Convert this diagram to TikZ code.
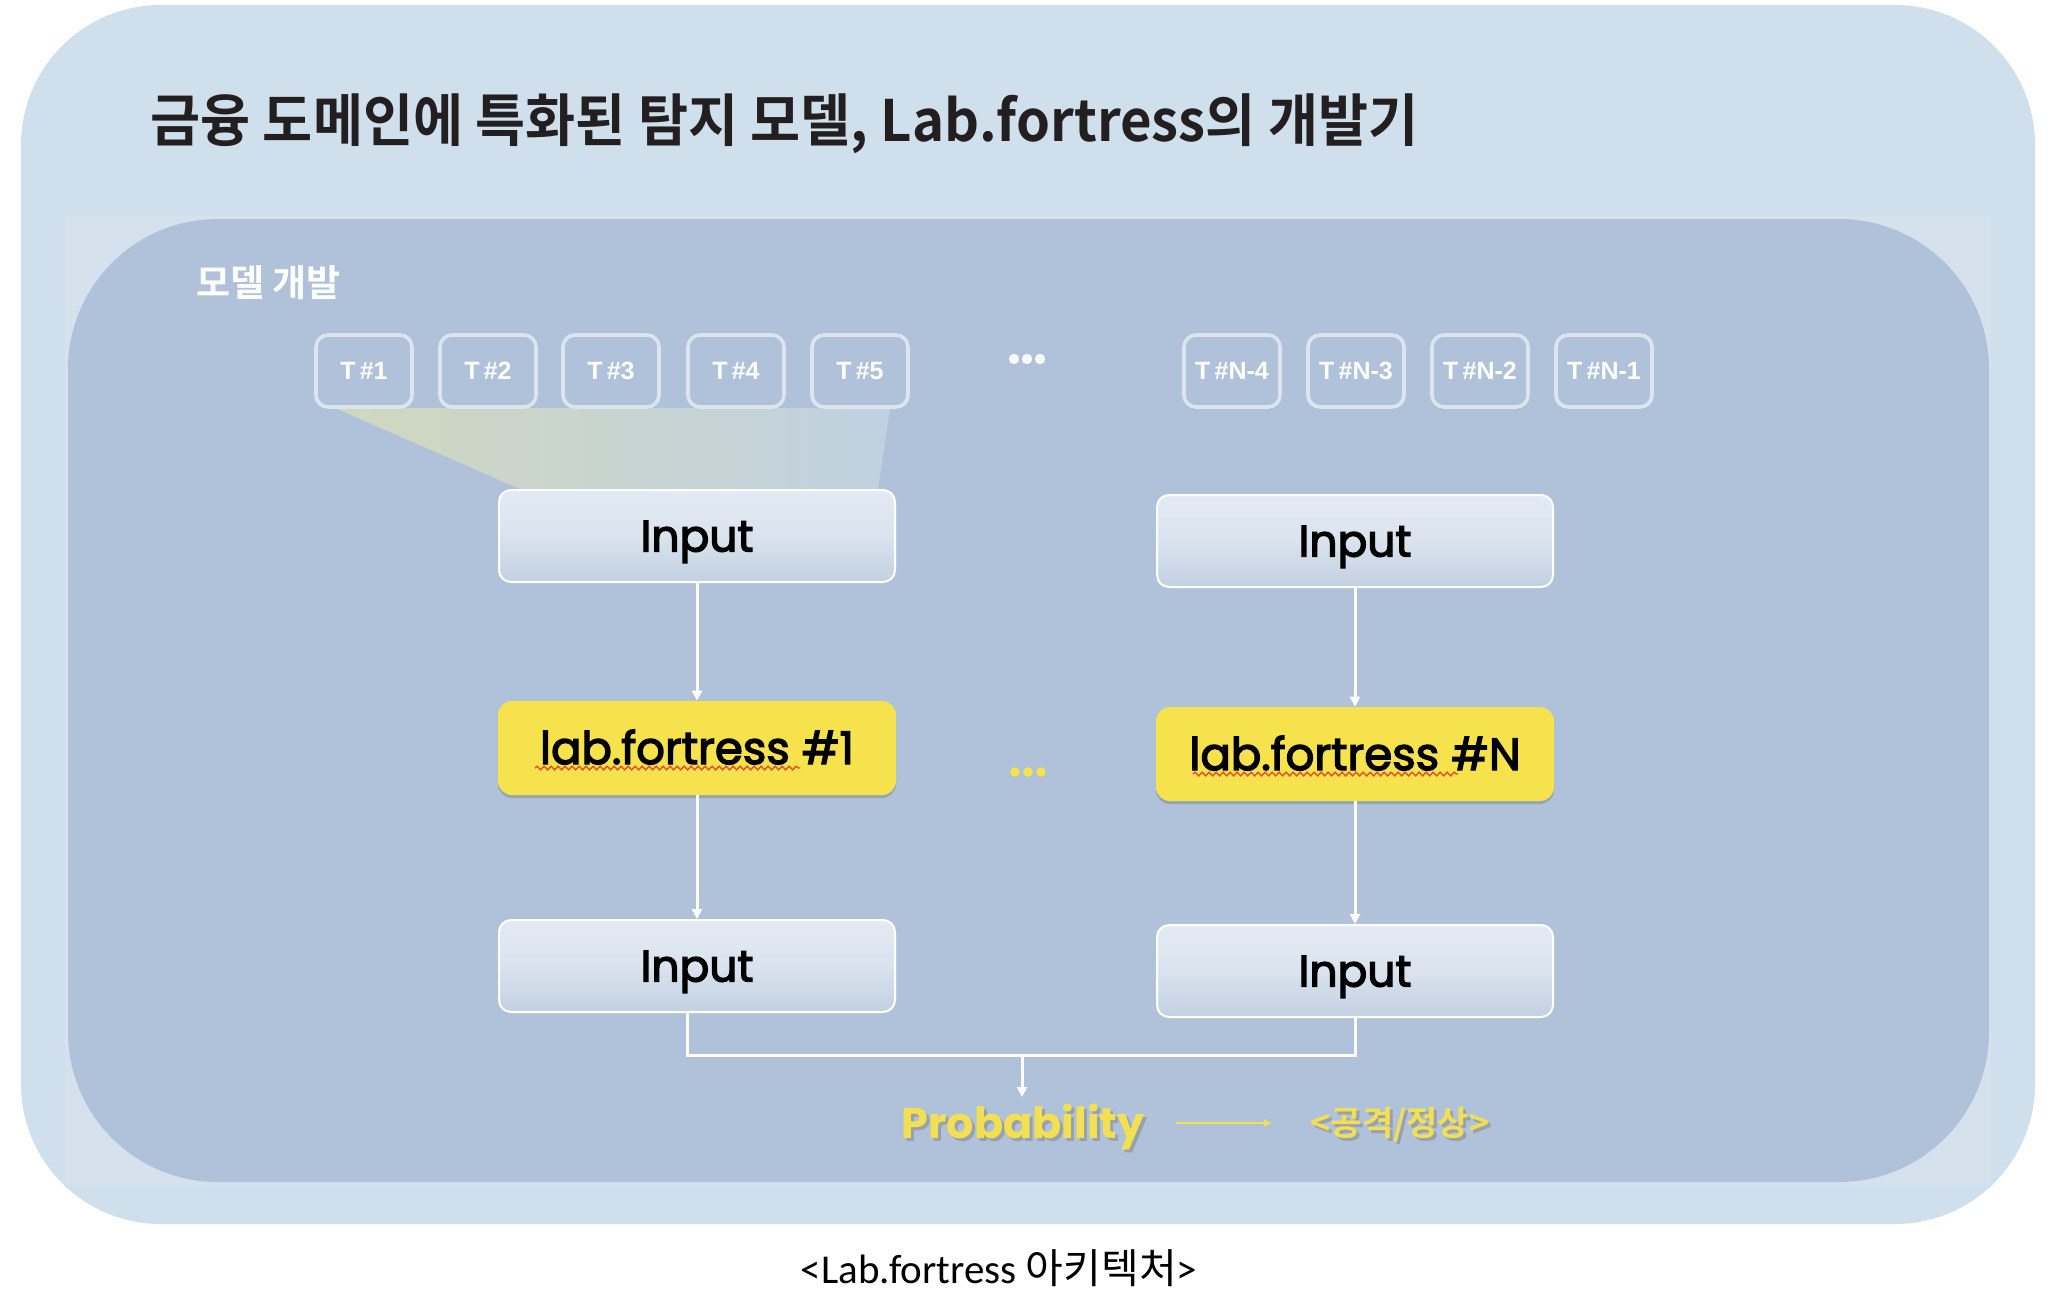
\documentclass[tikz,border=0pt]{standalone}
\usepackage{fontspec}
\setmainfont{Noto Sans CJK KR}
\newfontfamily\kr{Noto Sans CJK KR}[BoldFont={Noto Sans CJK KR Bold}]
\newfontfamily\pop{Poppins}
\newfontfamily\popm{Poppins}[FakeBold=3]
\newfontfamily\hv{Liberation Sans}
\newfontfamily\carl{Carlito}
\usetikzlibrary{arrows.meta,shadows,decorations.pathmorphing,calc}
\definecolor{outerbg}{RGB}{207,223,235}
\definecolor{bandc}{RGB}{213,225,237}
\definecolor{innerbg}{RGB}{175,194,218}
\definecolor{tstroke}{RGB}{220,229,238}
\definecolor{yel}{RGB}{246,226,76}
\definecolor{probY}{RGB}{243,224,82}
\definecolor{inTop}{RGB}{227,234,243}
\definecolor{inMid}{RGB}{218,227,238}
\definecolor{inBot}{RGB}{194,208,225}
\definecolor{titlec}{RGB}{35,31,32}
\definecolor{fanL}{RGB}{214,220,186}
\definecolor{fanR}{RGB}{196,212,226}
\definecolor{squig}{RGB}{226,80,40}
\tikzset{
  tbox/.style={draw=tstroke, line width=1.8pt, rounded corners=6pt, minimum width=48pt, minimum height=36pt,
    inner sep=0pt, text=white, font=\hv\bfseries\fontsize{12.5}{15}\selectfont},
  inbox/.style={draw=white, line width=1pt, rounded corners=6pt, minimum width=198pt, minimum height=46pt,
    top color=inTop, bottom color=inBot, middle color=inMid, text height=15.5pt, text depth=0pt,
    font=\popm\fontsize{22}{25}\selectfont, text=black},
  lfbox/.style={fill=yel, rounded corners=7pt, minimum width=199pt, minimum height=47pt, text height=16pt, text depth=0pt,
    drop shadow={shadow xshift=0pt, shadow yshift=-1.5pt, opacity=0.25, fill=black!70},
    font=\popm\fontsize{22.5}{25}\selectfont, text=black},
  warrow/.style={draw=white, line width=1.5pt, -{Triangle[length=5pt,width=5pt]}},
  yarrow/.style={draw=probY, line width=1.2pt, -{Triangle[length=4pt,width=3.5pt]}},
  squiggle/.style={draw=squig, line width=0.7pt, decorate, decoration={snake, amplitude=0.9pt, segment length=3.5pt}},
  probtxt/.style={font=\pop\bfseries\fontsize{21.5}{24}\selectfont, text=probY},
  shadowtxt/.style={font=\pop\bfseries\fontsize{21.5}{24}\selectfont, text=black!45, opacity=0.6},
  restxt/.style={font=\kr\bfseries\fontsize{17}{19}\selectfont},
}
\begin{document}
\begin{tikzpicture}[x=0.5pt,y=-0.5pt]
\fill[white] (0,0) rectangle (2048,1307);
\useasboundingbox (0,0) rectangle (2048,1307);
% outer panel
\fill[outerbg, rounded corners=70pt] (21,5) rectangle (2035,1224);
\fill[bandc] (65,216) rectangle (1991,1185);
\fill[innerbg, rounded corners=75pt] (68,219) rectangle (1989,1182);
% title
\node[anchor=west, inner sep=0pt, font=\kr\bfseries\fontsize{28.5}{30}\selectfont, text=titlec] (title) at (150,124)
  {\scalebox{0.955}[1]{금융 도메인에 특화된 탐지 모델, Lab.fortress의 개발기}};
\node[anchor=west, inner sep=0pt, font=\kr\bfseries\fontsize{18.5}{20}\selectfont, text=white] (sec) at (196,283) {모델 개발};
% fan
\shade[left color=fanL, right color=fanR, opacity=0.85] (335,408) -- (890,408) -- (878,489) -- (520,489) -- cycle;
% T boxes
\node[tbox] (t1) at (364,371) {T\,\#1};
\node[tbox] (t2) at (488,371) {T\,\#2};
\node[tbox] (t3) at (611,371) {T\,\#3};
\node[tbox] (t4) at (736,371) {T\,\#4};
\node[tbox] (t5) at (860,371) {T\,\#5};
\node[tbox] (tn4) at (1232,371) {T\,\#N-4};
\node[tbox] (tn3) at (1356,371) {T\,\#N-3};
\node[tbox] (tn2) at (1480,371) {T\,\#N-2};
\node[tbox] (tn1) at (1604,371) {T\,\#N-1};
\foreach \dx in {1014,1027,1040} \fill[white!92!innerbg] (\dx,359) circle (2.6pt);
% columns
\node[inbox] (in1) at (697,536) {Input};
\node[inbox] (in2) at (1355,541) {Input};
\node[lfbox] (lf1) at (697,748) {lab.fortress \#1};
\node[lfbox] (lf2) at (1355,754) {lab.fortress \#N};
\node[inbox] (in3) at (697,966) {Input};
\node[inbox] (in4) at (1355,971) {Input};
\foreach \dx in {1015,1028,1041} \fill[yel] (\dx,772) circle (2.4pt);
% squiggles
\draw[squiggle] ($(lf1.center)+(-162,20)$) -- ($(lf1.center)+(103,20)$);
\draw[squiggle] ($(lf2.center)+(-162,20)$) -- ($(lf2.center)+(103,20)$);
% arrows
\draw[warrow] (in1.south) -- (lf1.north);
\draw[warrow] (lf1.south) -- (in3.north);
\draw[warrow] (in2.south) -- (lf2.north);
\draw[warrow] (lf2.south) -- (in4.north);
% probability
\node[shadowtxt] (probsh) at (1026,1130) {Probability};
\node[probtxt] (prob) at (1023,1127) {Probability};
\node[restxt, text=black!45, opacity=0.6] (ressh) at (1403,1127) {<공격/정상>};
\node[restxt, text=probY] (res) at (1400,1124) {<공격/정상>};
\draw[yarrow, shorten <=12pt, shorten >=16pt] (prob.east |- 0,1123) -- (res.west |- 0,1123);
% bracket
\coordinate (bl) at ($(in3.south)+(-10,0)$);
\coordinate (j) at (1022,1055);
\draw[white, line width=1.5pt] (bl) |- (j) -| (in4.south);
\draw[warrow] (j) -- (j |- prob.north);
% caption
\node[font=\fontsize{20.5}{22}\selectfont, text=black] (cap) at (999,1268) {{\carl <Lab.fortress} {\kr 아키텍처}{\carl >}};
\end{tikzpicture}
\end{document}
